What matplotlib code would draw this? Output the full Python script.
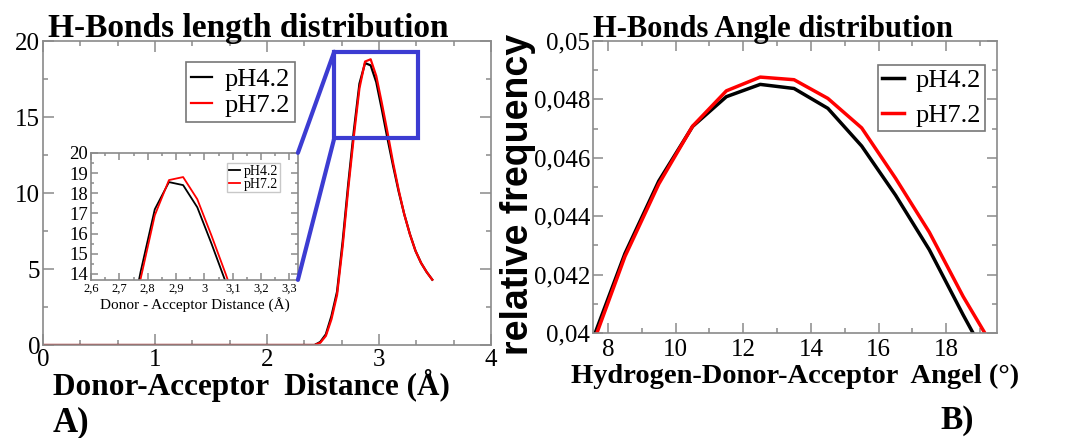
import matplotlib.pyplot as plt
from matplotlib.patches import Rectangle, ConnectionPatch
from matplotlib.ticker import MultipleLocator, FuncFormatter

# data
dist = [0.0, 2.425, 2.475, 2.525, 2.575, 2.625, 2.675, 2.725, 2.775, 2.825, 2.875,
        2.925, 2.975, 3.025, 3.075, 3.125, 3.175, 3.225, 3.275, 3.325, 3.375, 3.425, 3.475]
len_ph42 = [0, 0, 0.2, 0.7, 1.9, 3.5, 6.8, 10.6, 14.1, 17.2, 18.55,
            18.4, 17.3, 15.5, 13.6, 11.8, 10.1, 8.6, 7.3, 6.2, 5.4, 4.8, 4.3]
len_ph72 = [0, 0, 0.15, 0.6, 1.7, 3.3, 6.5, 10.3, 13.75, 16.9, 18.65,
            18.8, 17.7, 15.9, 14.0, 12.0, 10.2, 8.6, 7.3, 6.2, 5.4, 4.8, 4.3]

angle = [7.5, 8.5, 9.5, 10.5, 11.5, 12.5, 13.5, 14.5, 15.5, 16.5, 17.5, 18.5, 19.5]
ang_ph42 = [0.03963, 0.04272, 0.04520, 0.04707, 0.04809, 0.04851, 0.04837,
            0.04769, 0.04640, 0.04472, 0.04285, 0.04062, 0.03850]
ang_ph72 = [0.03946, 0.04262, 0.04510, 0.04708, 0.04829, 0.04876, 0.04867,
            0.04803, 0.04702, 0.04530, 0.04345, 0.04125, 0.03930]

labels = ['pH4.2', 'pH7.2']
colors = ['black', 'red']

serif = 'Liberation Serif'
grey = '#8a8a8a'
blue = '#3c3cd2'

comma = FuncFormatter(lambda v, p: f'{v:g}'.replace('.', ','))


def style(ax, size, major=8, minor=3.5):
    for s in ax.spines.values():
        s.set_color(grey)
        s.set_linewidth(1.2)
    ax.tick_params(which='both', direction='in', top=True, right=True,
                   color=grey, width=1.1, labelsize=size, pad=2)
    ax.tick_params(which='major', length=major)
    ax.tick_params(which='minor', length=minor)
    for t in ax.get_xticklabels() + ax.get_yticklabels():
        t.set_family(serif)


def frame(leg, ec='#555555', lw=1.2):
    leg.get_frame().set_edgecolor(ec)
    leg.get_frame().set_linewidth(lw)


fig = plt.figure(figsize=(10.72, 4.38), dpi=100)

# A) length distribution
ax1 = fig.add_axes([0.0401, 0.2123, 0.418, 0.694])
for y, lab, c in zip([len_ph42, len_ph72], labels, colors):
    ax1.plot(dist, y, color=c, lw=1.6, label=lab)
ax1.set_xlim(0, 4)
ax1.set_ylim(0, 20)
ax1.xaxis.set_major_locator(MultipleLocator(1))
ax1.xaxis.set_minor_locator(MultipleLocator(1 / 3))
ax1.yaxis.set_major_locator(MultipleLocator(5))
ax1.yaxis.set_minor_locator(MultipleLocator(2.5))
style(ax1, 18)
ax1.tick_params(axis='x', pad=3)
leg = ax1.legend(loc='upper left', bbox_to_anchor=(0.319, 0.931), borderaxespad=0,
                 fancybox=False, handlelength=0.8, handletextpad=0.45, borderpad=0.2,
                 labelspacing=0.1, prop={'family': serif, 'size': 19})
frame(leg)

# zoom box and connectors
ax1.add_patch(Rectangle((2.6, 13.6), 0.75, 5.7, fill=False, ec=blue, lw=3, zorder=5))

ax_in = fig.add_axes([0.0849, 0.361, 0.193, 0.290])
for y, lab, c in zip([len_ph42, len_ph72], labels, colors):
    ax_in.plot(dist, y, color=c, lw=1.3, label=lab)
ax_in.set_xlim(2.6, 3.33)
ax_in.set_ylim(13.7, 20)
ax_in.xaxis.set_major_locator(MultipleLocator(0.1))
ax_in.xaxis.set_minor_locator(MultipleLocator(0.05))
ax_in.yaxis.set_major_locator(MultipleLocator(1))
ax_in.yaxis.set_minor_locator(MultipleLocator(0.5))
ax_in.xaxis.set_major_formatter(comma)
style(ax_in, 13.5, major=5, minor=2.5)
ax_in.tick_params(axis='x', labelsize=9, pad=2)
ax_in.set_xlabel('Donor - Acceptor Distance (Å)', family=serif, fontsize=11, labelpad=2)
leg_in = ax_in.legend(loc='upper right', bbox_to_anchor=(0.913, 0.921), borderaxespad=0,
                      fancybox=False, handlelength=0.8, handletextpad=0.3, borderpad=0.12,
                      labelspacing=0.0, prop={'family': serif, 'size': 10})
frame(leg_in, '#bbbbbb', 1.0)

for yd, yi in [(19.3, 1), (13.6, 0)]:
    con = ConnectionPatch(xyA=(2.6, yd), coordsA=ax1.transData,
                          xyB=(1, yi), coordsB=ax_in.transAxes,
                          color=blue, lw=3, zorder=6)
    fig.add_artist(con)

fig.text(48 / 1072, 1 - 37 / 438, 'H-Bonds length distribution', family=serif,
         weight='bold', fontsize=24, ha='left', va='baseline')
fig.text(53 / 1072, 1 - 395 / 438, 'Donor-Acceptor  Distance (Å)', family=serif,
         weight='bold', fontsize=22.5, ha='left', va='baseline')
fig.text(53 / 1072, 1 - 431 / 438, 'A)', family=serif, weight='bold', fontsize=25,
         ha='left', va='baseline')

# B) angle distribution
ax2 = fig.add_axes([0.553, 0.2397, 0.377, 0.667])
for y, lab, c in zip([ang_ph42, ang_ph72], labels, colors):
    ax2.plot(angle, y, color=c, lw=2.5, label=lab)
ax2.set_xlim(7.55, 19.5)
ax2.set_ylim(0.04, 0.05)
ax2.xaxis.set_major_locator(MultipleLocator(2))
ax2.xaxis.set_minor_locator(MultipleLocator(1))
ax2.yaxis.set_major_locator(MultipleLocator(0.002))
ax2.yaxis.set_minor_locator(MultipleLocator(0.001))
ax2.yaxis.set_major_formatter(comma)
style(ax2, 18, major=7, minor=3.5)
ax2.tick_params(axis='x', pad=4)
leg2 = ax2.legend(loc='upper right', bbox_to_anchor=(0.97, 0.918), borderaxespad=0,
                  fancybox=False, handlelength=0.8, handletextpad=0.45, borderpad=0.15,
                  labelspacing=0.42, prop={'family': serif, 'size': 19})
frame(leg2)

fig.text(593 / 1072, 1 - 37 / 438, 'H-Bonds Angle distribution', family=serif,
         weight='bold', fontsize=22, ha='left', va='baseline')
fig.text(571 / 1072, 1 - 383 / 438, 'Hydrogen-Donor-Acceptor  Angel (°)', family=serif,
         weight='bold', fontsize=20.5, ha='left', va='baseline')
fig.text(940 / 1072, 1 - 429 / 438, 'B)', family=serif, weight='bold', fontsize=24,
         ha='left', va='baseline')
fig.text(518 / 1072, 0.555, 'relative frequency', family='Liberation Sans',
         weight='bold', fontsize=27, rotation=90, ha='center', va='center')

fig.savefig('out.png', dpi=100)
